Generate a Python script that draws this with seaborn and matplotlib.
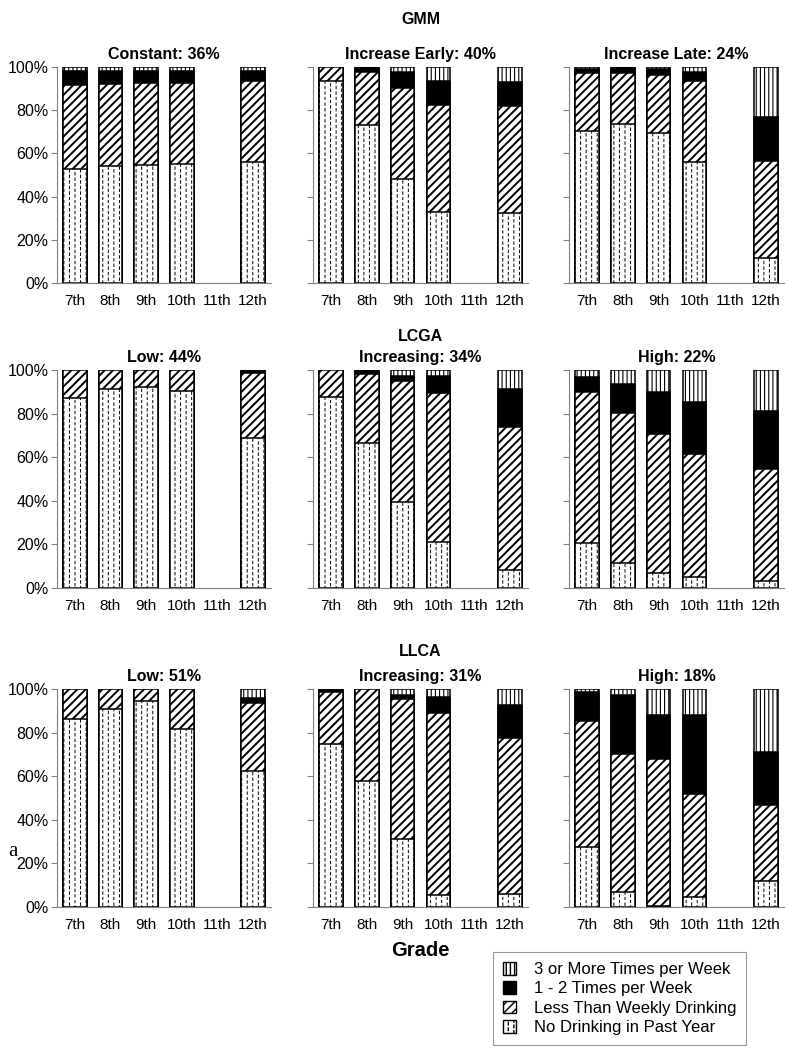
import warnings
import numpy as np
import matplotlib
matplotlib.use('Agg')
import matplotlib.pyplot as plt
import matplotlib.hatch as mhatch
from matplotlib.path import Path
from matplotlib.patches import Patch
import seaborn as sns

warnings.filterwarnings('ignore')

grades = ['7th', '8th', '9th', '10th', '11th', '12th']
measured = ['7th', '8th', '9th', '10th', '12th']
levels = ['No Drinking in Past Year', 'Less Than Weekly Drinking',
          '1 - 2 Times per Week', '3 or More Times per Week']

# percent of each class per grade; rows: no drinking, < weekly, 1-2/week, 3+/week
gmm_constant = [[53, 54, 54.5, 55, 56],
                [38.5, 38, 38, 37.5, 37.5],
                [6.5, 6, 5.5, 5.5, 4.5],
                [2, 2, 2, 2, 2]]
gmm_early = [[93.5, 73, 48, 33, 32.5],
             [6.5, 24.5, 42.5, 49.5, 49.5],
             [0, 2.5, 7, 11, 11.2],
             [0, 0, 2.5, 6.5, 6.8]]
gmm_late = [[70.3, 73.7, 69.4, 56, 11.5],
            [26.7, 23.7, 27, 37.5, 44.8],
            [2, 2.6, 2.6, 4.4, 20.5],
            [1, 0, 1, 2.1, 23.2]]
lcga_low = [[87.3, 91.3, 92.4, 90.5, 68.7],
            [12.7, 8.7, 7.6, 9.5, 29.8],
            [0, 0, 0, 0, 1.5],
            [0, 0, 0, 0, 0]]
lcga_inc = [[87.8, 66.7, 39.6, 21.3, 8.4],
            [12.2, 31.5, 55.5, 68, 65.4],
            [0, 1.8, 2.3, 7.8, 17.5],
            [0, 0, 2.6, 2.9, 8.7]]
lcga_high = [[20.8, 11.4, 6.8, 4.9, 3.3],
             [68.9, 68.8, 63.7, 56.7, 51.4],
             [7.3, 13.6, 19.3, 23.8, 26.6],
             [3, 6.2, 10.2, 14.6, 18.7]]
llca_low = [[86.4, 91, 94.3, 81.7, 62.2],
            [13.6, 9, 5.7, 18.3, 31.4],
            [0, 0, 0, 0, 2.3],
            [0, 0, 0, 0, 4.1]]
llca_inc = [[74.7, 57.7, 31.1, 5.7, 6.1],
            [23.8, 42.3, 64.2, 83.4, 71.2],
            [1.5, 0, 1.9, 7.4, 15.3],
            [0, 0, 2.8, 3.5, 7.4]]
llca_high = [[27.6, 6.9, 0.5, 4.4, 11.8],
             [57.8, 63.5, 67.6, 47.6, 35],
             [13.4, 26.8, 20.1, 36.2, 24.4],
             [1.2, 2.8, 11.8, 11.8, 28.8]]

models = ['GMM', 'LCGA', 'LLCA']
titles = [['Constant: 36%', 'Increase Early: 40%', 'Increase Late: 24%'],
          ['Low: 44%', 'Increasing: 34%', 'High: 22%'],
          ['Low: 51%', 'Increasing: 31%', 'High: 18%']]
panels = [[gmm_constant, gmm_early, gmm_late],
          [lcga_low, lcga_inc, lcga_high],
          [llca_low, llca_inc, llca_high]]


# short staggered vertical dashes for the "no drinking" fill
class DashHatch(mhatch.HatchPatternBase):
    def __init__(self, hatch, density):
        self.n = int(hatch.count(':') * density)
        self.num_vertices = self.n * self.n * 2

    def set_vertices_and_codes(self, vertices, codes):
        step = 1.0 / self.n
        k = 0
        for i in range(self.n):
            x = (i + 0.5) * step
            shift = 0.5 * step if i % 2 else 0.0
            for j in range(self.n):
                y0 = j * step + shift + 0.02 * step
                vertices[k] = (x, y0)
                vertices[k + 1] = (x, y0 + 0.45 * step)
                codes[k] = Path.MOVETO
                codes[k + 1] = Path.LINETO
                k += 2


mhatch._hatch_types.append(DashHatch)

hatches = [':::', '////', None, '||||']
fills = ['white', 'white', 'black', 'white']
hatch_lw = [0.7, 1.4, 1.0, 0.8]

sns.set_style('white')
plt.rcParams['font.family'] = ['Liberation Sans', 'DejaVu Sans']
plt.rcParams['hatch.linewidth'] = 1.0
plt.rcParams['text.color'] = 'black'
plt.rcParams['axes.labelcolor'] = 'black'
plt.rcParams['xtick.labelcolor'] = 'black'
plt.rcParams['ytick.labelcolor'] = 'black'

W, H = 801, 1050
fig = plt.figure(figsize=(W / 100, H / 100), dpi=100)

cols_px = [(57, 271), (313, 528), (569, 784)]
rows_px = [(67, 283), (370, 588), (689, 907)]
group_y = [19, 337, 652]


def rect(x0, x1, y0, y1):
    return [x0 / W, 1 - y1 / H, (x1 - x0) / W, (y1 - y0) / H]


def set_hlw(patch, lw):
    if hasattr(patch, 'set_hatch_linewidth'):
        patch.set_hatch_linewidth(lw)


def stacked(ax, shares):
    tops = np.cumsum(np.array(shares, dtype=float), axis=0)
    for k in range(3, -1, -1):
        n0 = len(ax.patches)
        sns.barplot(x=measured, y=tops[k], order=grades, color=fills[k],
                    hatch=hatches[k], edgecolor='black', linewidth=1.1,
                    width=0.66, saturation=1, errorbar=None, ax=ax)
        for p in ax.patches[n0:]:
            set_hlw(p, hatch_lw[k])


for r in range(3):
    for c in range(3):
        ax = fig.add_axes(rect(*cols_px[c], *rows_px[r]))
        stacked(ax, panels[r][c])
        ax.set_ylim(0, 100)
        ax.set_xlim(-0.5, 5.5)
        ax.set_yticks(range(0, 101, 20))
        if c == 0:
            ax.set_yticklabels([f'{v}%' for v in range(0, 101, 20)])
        else:
            ax.set_yticklabels([])
        ax.set_xticks(np.arange(-0.5, 6, 1), minor=True)
        ax.tick_params(axis='x', which='major', length=0, pad=8, labelsize=11,
                       labelcolor='black')
        ax.tick_params(axis='x', which='minor', length=4, color='gray', width=0.8)
        ax.tick_params(axis='y', length=4, color='gray', width=0.8, labelsize=11.5,
                       left=True, pad=2, labelcolor='black')
        ax.set_xlabel('')
        ax.set_ylabel('')
        for side in ['top', 'right']:
            ax.spines[side].set_visible(False)
        for side in ['left', 'bottom']:
            ax.spines[side].set_color('gray')
            ax.spines[side].set_linewidth(0.8)
        ax.set_title(titles[r][c], fontsize=11.5, fontweight='bold', pad=6,
                     color='black')
    fig.text((313 + 528) / 2 / W, 1 - group_y[r] / H, models[r],
             ha='center', va='center', fontsize=11.5, fontweight='bold',
             color='black')

fig.text(8 / W, 1 - 852 / H, 'a', ha='left', va='center', fontsize=15,
         family=['Liberation Serif', 'DejaVu Serif'], color='black')
fig.text(420 / W, 1 - 950 / H, 'Grade', ha='center', va='center',
         fontsize=14.5, fontweight='bold', color='black')

handles = []
for k in range(3, -1, -1):
    h = Patch(facecolor=fills[k], edgecolor='black', hatch=hatches[k],
              label=levels[k])
    set_hlw(h, hatch_lw[k])
    handles.append(h)
leg = fig.legend(handles=handles, loc='upper left',
                 bbox_to_anchor=(493 / W, 1 - 952 / H), frameon=True,
                 fancybox=False, edgecolor='gray', fontsize=12,
                 handlelength=0.75, handleheight=0.8, handletextpad=1.1,
                 labelspacing=0.25, borderpad=0.6, borderaxespad=0)
leg.get_frame().set_linewidth(0.8)
for t in leg.get_texts():
    t.set_color('black')

fig.savefig('out.png', dpi=100, facecolor='white')
